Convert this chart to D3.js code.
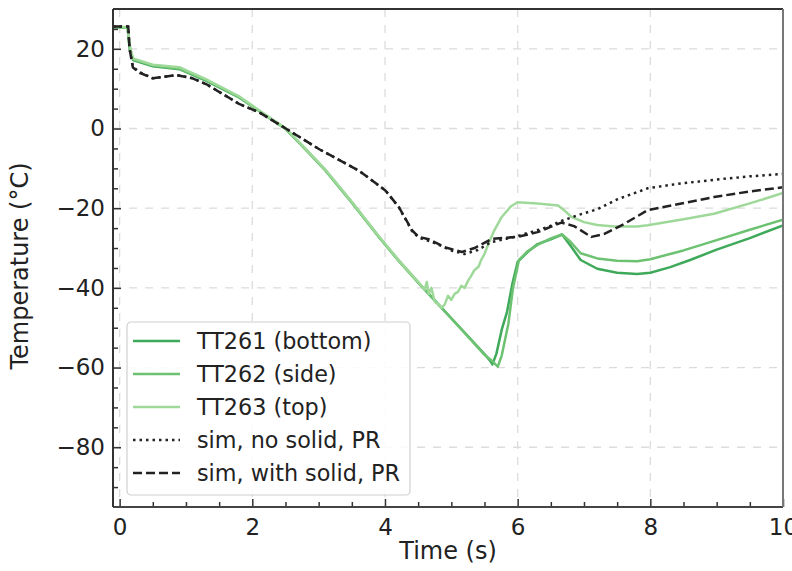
<!DOCTYPE html>
<meta charset="utf-8">
<script src="https://d3js.org/d3.v7.min.js"></script>
<style>
  body { margin: 0; background: #fff; }
  text { font-family: "DejaVu Sans", sans-serif; fill: #222; }
</style>
<svg width="792" height="571"></svg>
<script>
// measured series (time in s, temperature in degC)
var tt261Time = [-0.1, 0.12, 0.15, 0.2, 0.5, 0.9, 1.3, 1.8, 2.3, 2.5, 2.7, 3.1, 3.5, 3.9, 4.2, 4.5, 4.9, 5.2, 5.5, 5.58, 5.62, 5.68, 5.76, 5.84, 5.92, 6.0, 6.15, 6.3, 6.5, 6.67, 6.8, 6.95, 7.2, 7.5, 7.8, 8.0, 8.3, 8.6, 9.0, 9.5, 10];
var tt261Temp = [25.4, 25.4, 20, 17.2, 15.6, 14.9, 12.0, 7.8, 2.2, 0, -3.4, -10.4, -18.5, -27, -33, -38.6, -45.8, -51.2, -56.6, -58.2, -59.2, -56.5, -50.5, -46, -39, -33.5, -31, -29, -27.8, -26.6, -29.5, -33, -35.2, -36.2, -36.5, -36.2, -34.8, -33, -30.4, -27.5, -24.3];

var tt262Time = [-0.1, 0.12, 0.15, 0.2, 0.5, 0.9, 1.3, 1.8, 2.3, 2.5, 2.7, 3.1, 3.5, 3.9, 4.2, 4.5, 4.9, 5.2, 5.5, 5.62, 5.7, 5.76, 5.86, 5.93, 6.02, 6.15, 6.3, 6.5, 6.67, 6.8, 6.95, 7.2, 7.5, 7.8, 8.0, 8.5, 9.0, 9.5, 10];
var tt262Temp = [25.3, 25.3, 20.5, 17.4, 15.8, 15.0, 12.2, 7.9, 2.1, -0.1, -3.5, -10.5, -18.6, -27.1, -33.1, -38.7, -45.9, -51.3, -56.8, -58.4, -59.8, -57, -49, -40, -33, -30.8, -29.2, -27.6, -26.6, -28.5, -31.3, -32.6, -33.2, -33.3, -32.8, -30.6, -28, -25.4, -22.9];

var tt263Time = [-0.1, 0.12, 0.15, 0.2, 0.5, 0.9, 1.3, 1.8, 2.3, 2.5, 2.7, 3.1, 3.5, 3.9, 4.2, 4.5, 4.6, 4.63, 4.66, 4.7, 4.75, 4.8, 4.85, 4.9, 4.95, 5.0, 5.05, 5.1, 5.15, 5.2, 5.26, 5.3, 5.35, 5.41, 5.45, 5.5, 5.56, 5.65, 5.76, 5.9, 6.0, 6.3, 6.61, 6.7, 6.81, 7.0, 7.2, 7.46, 7.8, 7.96, 8.5, 8.96, 9.5, 10];
var tt263Temp = [25.5, 25.5, 21, 17.6, 16.0, 15.4, 12.4, 8.1, 2.3, 0.1, -3.3, -10.3, -18.4, -26.9, -32.9, -38.5, -40.4, -38.5, -41.5, -40, -43.5, -44, -45, -44.2, -42, -43, -41.5, -41, -39.5, -40, -38, -37, -35.5, -34.7, -33, -31.5, -28.9, -25.5, -22.2, -19.5, -18.5, -18.8, -19.3, -20.5, -22.2, -23.5, -24.2, -24.6, -24.6, -24.3, -22.8, -21.4, -18.8, -16.2];

// simulations
var noSolidTime = [-0.1, 0.13, 0.15, 0.2, 0.3, 0.5, 0.86, 1.1, 1.31, 1.81, 2.11, 2.48, 3.01, 3.61, 4.01, 4.21, 4.41, 4.51, 4.7, 5.0, 5.2, 5.4, 5.6, 5.8, 6.0, 6.2, 6.46, 6.66, 6.9, 7.21, 7.5, 7.96, 8.41, 9.0, 9.5, 10];
var noSolidTemp = [25.6, 25.6, 20, 15.5, 14.2, 12.6, 13.4, 12.6, 11.1, 6.1, 4, 0.25, -5.2, -10.6, -15.6, -19.8, -25.8, -27.4, -28.4, -30.6, -31.5, -30.5, -28.5, -27.8, -27, -26, -24.7, -23.2, -21.8, -20.2, -17.8, -15, -13.9, -12.8, -12, -11.4];

var withSolidTime = [-0.1, 0.13, 0.15, 0.2, 0.3, 0.5, 0.86, 1.1, 1.31, 1.81, 2.11, 2.48, 3.01, 3.61, 4.01, 4.21, 4.41, 4.51, 4.66, 4.9, 5.16, 5.35, 5.61, 6.0, 6.3, 6.66, 6.85, 7.11, 7.3, 7.6, 7.96, 8.41, 8.96, 9.5, 10];
var withSolidTemp = [25.6, 25.6, 20, 15.3, 14.0, 12.6, 13.4, 12.6, 11.1, 6.1, 4, 0.25, -5.2, -10.6, -15.6, -19.75, -25.6, -27.2, -27.8, -29.8, -31, -30, -27.7, -27.2, -26, -23.6, -24.5, -27.2, -26.5, -24, -20.5, -19, -17.2, -15.8, -14.75];

var xTicks = [0, 2, 4, 6, 8, 10];
var yTicks = [20, 0, -20, -40, -60, -80];

var series = [
  { name: "TT261 (bottom)", t: tt261Time, v: tt261Temp, color: "#3fa95a", dash: null },
  { name: "TT262 (side)", t: tt262Time, v: tt262Temp, color: "#6cc271", dash: null },
  { name: "TT263 (top)", t: tt263Time, v: tt263Temp, color: "#9fd99a", dash: null },
  { name: "sim, no solid, PR", t: noSolidTime, v: noSolidTemp, color: "#222", dash: "2.5,4" },
  { name: "sim, with solid, PR", t: withSolidTime, v: withSolidTemp, color: "#222", dash: "9,4" }
];

var svg = d3.select("svg"),
    margin = { top: 9, right: 9, bottom: 64, left: 113 },
    width = +svg.attr("width") - margin.left - margin.right,
    height = +svg.attr("height") - margin.top - margin.bottom,
    g = svg.append("g").attr("transform", "translate(" + margin.left + "," + margin.top + ")");

var x = d3.scaleLinear().domain([-0.1, 10]).range([0, width]);
var y = d3.scaleLinear().domain([-95, 30]).range([height, 0]);

// grid
g.append("g").selectAll("line")
  .data(xTicks.filter(function (d) { return d < 10; }))
  .enter().append("line")
  .attr("x1", function (d) { return x(d); }).attr("x2", function (d) { return x(d); })
  .attr("y1", 0).attr("y2", height)
  .attr("stroke", "#dcdcdc").attr("stroke-width", 1.3).attr("stroke-dasharray", "8,8");

g.append("g").selectAll("line")
  .data(yTicks)
  .enter().append("line")
  .attr("y1", function (d) { return y(d); }).attr("y2", function (d) { return y(d); })
  .attr("x1", 0).attr("x2", width)
  .attr("stroke", "#dcdcdc").attr("stroke-width", 1.3).attr("stroke-dasharray", "8,8");

// lines
var line = d3.line()
  .x(function (d) { return x(d[0]); })
  .y(function (d) { return y(d[1]); });

g.append("defs").append("clipPath").attr("id", "clip")
  .append("rect").attr("width", width).attr("height", height);

var plot = g.append("g").attr("clip-path", "url(#clip)");
series.forEach(function (s) {
  plot.append("path")
    .datum(d3.zip(s.t, s.v))
    .attr("d", line)
    .attr("fill", "none")
    .attr("stroke", s.color)
    .attr("stroke-width", 2.5)
    .attr("stroke-linejoin", "round")
    .attr("stroke-dasharray", s.dash);
});

// axes, ticks pointing inward
var xAxis = g.append("g")
  .attr("transform", "translate(0," + height + ")")
  .call(d3.axisBottom(x).tickValues(d3.range(0, 10.01, 0.5)).tickSize(-5).tickFormat(""));
xAxis.selectAll(".tick line").filter(function (d) { return d % 2 === 0; }).attr("y2", -8);
xAxis.select(".domain").remove();
g.append("g")
  .attr("transform", "translate(0," + height + ")")
  .call(d3.axisBottom(x).tickValues(xTicks).tickSize(0).tickPadding(12)
    .tickFormat(function (d) { return d3.format("d")(d).replace("-", "\u2212"); }))
  .call(function (a) { a.select(".domain").remove(); a.selectAll("text").attr("font-size", 23).attr("dy", "0.71em"); });

var yAxis = g.append("g")
  .call(d3.axisLeft(y).tickValues(d3.range(-90, 26, 5)).tickSize(-5).tickFormat(""));
yAxis.selectAll(".tick line").filter(function (d) { return d % 20 === 0; }).attr("x2", 8);
yAxis.select(".domain").remove();
g.append("g")
  .call(d3.axisLeft(y).tickValues(yTicks).tickSize(0).tickPadding(8)
    .tickFormat(function (d) { return String(d).replace("-", "\u2212"); }))
  .call(function (a) { a.select(".domain").remove(); a.selectAll("text").attr("font-size", 23); });

g.selectAll(".tick line").attr("stroke", "#333").attr("stroke-width", 1.5);

// frame
g.append("line").attr("x1", 0).attr("x2", width).attr("y1", 0).attr("y2", 0).attr("stroke", "#333").attr("stroke-width", 2);
g.append("line").attr("x1", 0).attr("x2", width).attr("y1", height).attr("y2", height).attr("stroke", "#444").attr("stroke-width", 2);
g.append("line").attr("x1", 0).attr("x2", 0).attr("y1", 0).attr("y2", height).attr("stroke", "#333").attr("stroke-width", 2);
g.append("line").attr("x1", width).attr("x2", width).attr("y1", 0).attr("y2", height).attr("stroke", "#777").attr("stroke-width", 2);

// axis titles
g.append("text")
  .attr("x", width / 2).attr("y", height + 52)
  .attr("text-anchor", "middle").attr("font-size", 24)
  .text("Time (s)");
g.append("text")
  .attr("transform", "translate(" + (-85) + "," + (height / 2 + 8) + ") rotate(-90)")
  .attr("text-anchor", "middle").attr("font-size", 24)
  .text("Temperature (\u00b0C)");

// legend
var legend = g.append("g").attr("transform", "translate(14,313)");
legend.append("rect")
  .attr("width", 283).attr("height", 173)
  .attr("rx", 4)
  .attr("fill", "rgba(255,255,255,0.85)")
  .attr("stroke", "#d0d0d0").attr("stroke-width", 1.2);

var item = legend.selectAll(".item")
  .data(series)
  .enter().append("g")
  .attr("transform", function (d, i) { return "translate(0," + (19 + i * 33) + ")"; });

item.append("line")
  .attr("x1", 6).attr("x2", 53)
  .attr("stroke", function (d) { return d.color; })
  .attr("stroke-width", 2.5)
  .attr("stroke-dasharray", function (d) { return d.dash; });

item.append("text")
  .attr("x", 70).attr("dy", "0.35em")
  .attr("font-size", 22.3)
  .text(function (d) { return d.name; });
</script>
